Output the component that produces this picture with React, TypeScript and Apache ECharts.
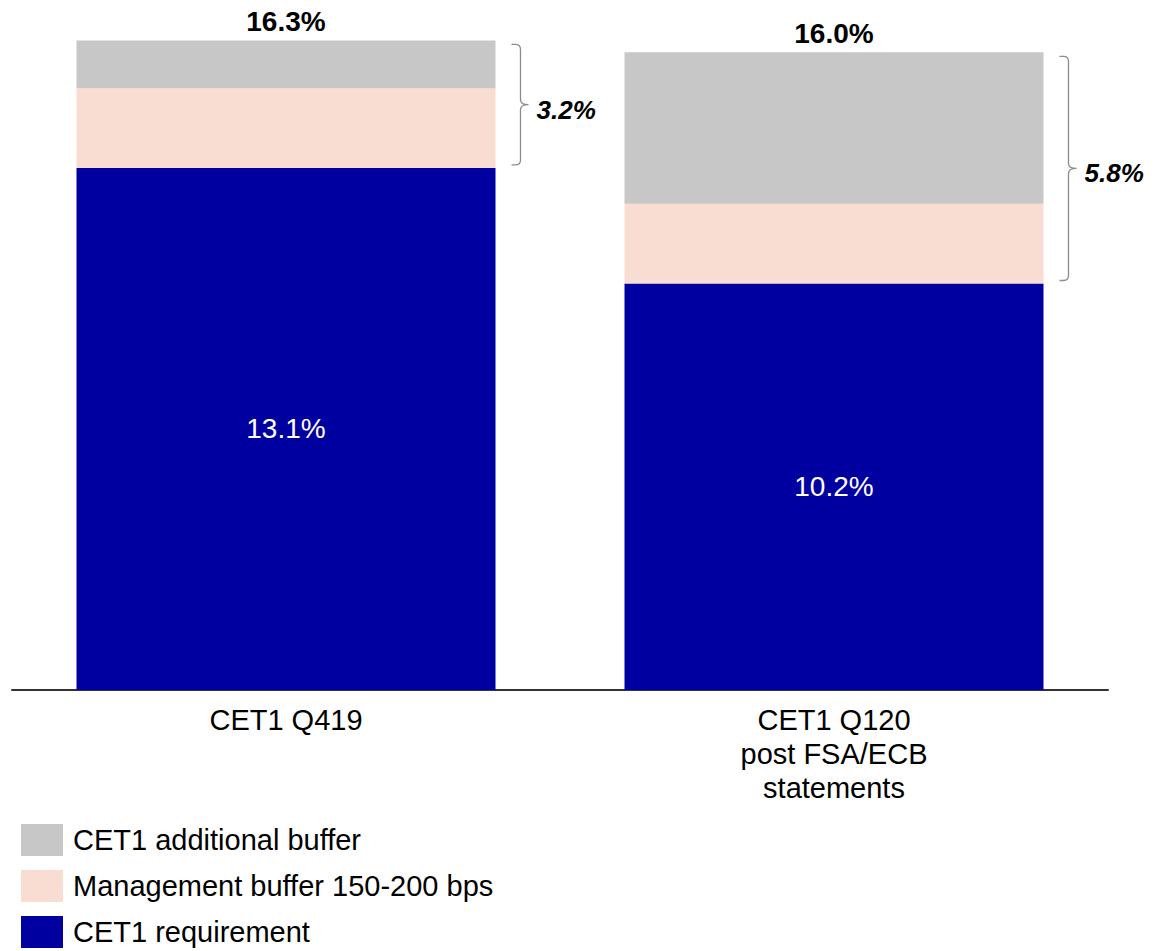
import React, { useEffect, useRef } from 'react';
import * as echarts from 'echarts';

const categories = ['CET1 Q419', 'CET1 Q120\npost FSA/ECB\nstatements'];
const requirement = [13.1, 10.2];
const management = [2.0, 2.0];
const additional = [1.2, 3.8];
const totalLabels = [16.3, 16.0];
const bufferLabels = [3.2, 5.8];
const legendNames = ['CET1 additional buffer', 'Management buffer 150-200 bps', 'CET1 requirement'];

const FONT = 'Liberation Sans, Arial, Helvetica, sans-serif';
const BAR_W = 419;

const Brace = (echarts.graphic as any).extendShape({
  shape: { x0: 0, x1: 0, x2: 0, y1: 0, y2: 0, r: 5 },
  buildPath(ctx: any, s: any) {
    const ym = (s.y1 + s.y2) / 2;
    ctx.moveTo(s.x0, s.y1);
    ctx.lineTo(s.x1 - s.r, s.y1);
    ctx.quadraticCurveTo(s.x1, s.y1, s.x1, s.y1 + s.r);
    ctx.lineTo(s.x1, ym - s.r);
    ctx.quadraticCurveTo(s.x1, ym, s.x2, ym);
    ctx.moveTo(s.x2, ym);
    ctx.quadraticCurveTo(s.x1, ym, s.x1, ym + s.r);
    ctx.lineTo(s.x1, s.y2 - s.r);
    ctx.quadraticCurveTo(s.x1, s.y2, s.x1 - s.r, s.y2);
    ctx.lineTo(s.x0, s.y2);
  },
});
(echarts.graphic as any).registerShape('brace', Brace);

export default function App() {
  const ref = useRef<HTMLDivElement>(null);
  useEffect(() => {
    document.body.style.margin = '0';
    const chart = echarts.init(ref.current!, null, { renderer: 'svg' });
    const option: any = {
      animation: false,
      textStyle: { fontFamily: FONT },
      grid: { left: 12, right: 46, top: 12.5, bottom: 261, containLabel: false },
      legend: {
        orient: 'vertical',
        left: 21,
        top: 824,
        itemWidth: 42,
        itemHeight: 32,
        itemGap: 14,
        padding: 0,
        icon: 'rect',
        data: legendNames,
        textStyle: { fontSize: 29, color: '#000', fontFamily: FONT, padding: [0, 0, 0, 5] },
      },
      xAxis: {
        type: 'category',
        data: categories,
        axisLine: { lineStyle: { color: '#333', width: 2 } },
        axisTick: { show: false },
        axisLabel: { fontSize: 29, color: '#000', lineHeight: 34, margin: 13, fontFamily: FONT },
      },
      yAxis: { type: 'value', min: 0, max: 17, show: false, splitLine: { show: false } },
      series: [
        {
          name: legendNames[2],
          type: 'bar',
          stack: 'a',
          barWidth: BAR_W,
          data: requirement,
          itemStyle: { color: '#0000A0' },
          label: {
            show: true,
            position: 'inside',
            color: '#fff',
            fontSize: 28,
            fontFamily: FONT,
            formatter: (p: any) => `${Number(p.value).toFixed(1)}%`,
          },
        },
        {
          name: legendNames[1],
          type: 'bar',
          stack: 'a',
          barWidth: BAR_W,
          data: management,
          itemStyle: { color: '#FADDD2' },
        },
        {
          name: legendNames[0],
          type: 'bar',
          stack: 'a',
          barWidth: BAR_W,
          data: additional,
          itemStyle: { color: '#C8C7C8' },
          label: {
            show: true,
            position: 'top',
            distance: 5,
            color: '#000',
            fontSize: 28,
            fontWeight: 'bold',
            fontFamily: FONT,
            formatter: (p: any) => `${totalLabels[p.dataIndex].toFixed(1)}%`,
          },
        },
      ],
    };
    chart.setOption(option);

    const elements: any[] = [];
    categories.forEach((_, i) => {
      const xc = chart.convertToPixel({ xAxisIndex: 0 }, i) as number;
      const right = xc + BAR_W / 2;
      const yTop = (chart.convertToPixel({ yAxisIndex: 0 }, totalLabels[i]) as number) + 4;
      const yBot = (chart.convertToPixel({ yAxisIndex: 0 }, requirement[i]) as number) - 3;
      const ym = (yTop + yBot) / 2;
      elements.push({
        type: 'brace',
        shape: { x0: right + 16, x1: right + 25, x2: right + 33, y1: yTop, y2: yBot, r: 5 },
        style: { stroke: '#8c8c8c', lineWidth: 1.3, fill: null },
        silent: true,
      });
      elements.push({
        type: 'text',
        x: right + 41,
        y: ym + 5,
        style: {
          text: `${bufferLabels[i].toFixed(1)}%`,
          fontSize: 26,
          fontWeight: 'bold',
          fontStyle: 'italic',
          fontFamily: FONT,
          fill: '#000',
          verticalAlign: 'middle',
          align: 'left',
        },
      });
    });
    chart.setOption({ graphic: { elements } });

    return () => chart.dispose();
  }, []);
  return <div ref={ref} style={{ width: 1154, height: 951 }} />;
}
